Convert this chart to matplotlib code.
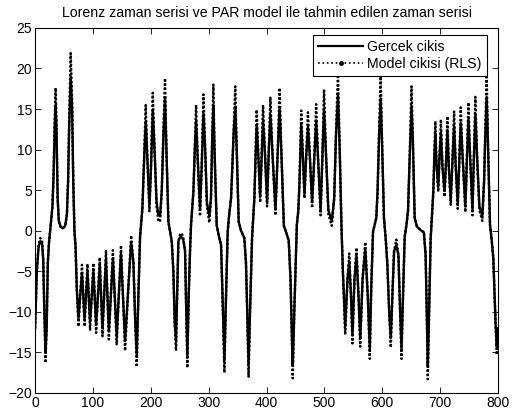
import numpy as np
import matplotlib
matplotlib.use('Agg')
import matplotlib.pyplot as plt
from matplotlib.lines import Line2D

# ornek indeksi (peak / trough / ara noktalar)
t = [0, 3, 6, 9, 12, 14, 16, 18, 20, 22, 24, 27, 30, 32, 34, 35.5, 37, 39, 41, 44,
     48, 52, 55, 57, 59, 61.5, 64, 66, 68, 70, 72, 75,
     81, 85.5, 90.5, 95, 100.8, 105.5, 111.8, 116.5, 122.5, 127.5, 134.5, 141, 148.5, 155.5,
     166, 170, 173, 175.7,
     178.5, 181.4, 183.5, 185.5, 188, 191.2, 194, 197.6, 200, 203.4, 207, 210, 213, 216,
     219, 222, 224.6, 227, 230.4, 233, 236.2, 239, 241.5, 243.6, 245.5, 247.7, 250.5,
     253.4, 256, 259.2, 261, 263.2, 265.5, 267.8, 269.5, 273.6, 276, 278.2, 281, 285.1,
     288, 291, 294, 297, 301.2, 304, 306, 308.1, 310.5, 313.9, 318, 321.4, 324, 327.2,
     330, 332.9, 335.5, 338.7, 341, 343.5, 346, 348.5, 351.9, 356, 361.7, 364.5, 367,
     369, 371.5, 375, 379, 381, 383, 386, 389, 391, 394, 397, 401, 404, 406.7, 410,
     415.5, 419, 422.6, 426, 430, 434, 438.4, 441.5, 443.5, 445.3, 448, 452.4, 455, 457,
     460, 463, 465.6, 468.5, 471.6, 475, 478.8, 482, 485.8, 489, 493.5, 496.5, 499.4,
     503, 507, 512.8, 517, 520, 523.5, 526.5, 529.5, 532, 536, 540, 543, 546, 548.5,
     552, 555.5, 559, 562, 566, 570.7, 575, 578.5, 581, 584.1, 589.8, 592, 594.5, 597.3,
     600, 603, 606, 608.9, 612, 614.8, 618, 620.5, 624.4, 628, 630.5, 633.3, 636, 638.8,
     642, 644.6, 647, 650.6, 653, 656.1, 660, 666, 672, 675, 677, 678.8, 681, 683.7,
     686, 688.3, 690, 691.8, 694, 696.8, 699, 701.4, 704, 707.7, 710, 712.7, 715, 718.4,
     721, 724.2, 727, 730.5, 733, 735.7, 739, 743.7, 746, 749, 752, 756, 758, 761, 764,
     768, 773, 776, 778, 780.5, 783, 786.3, 789, 792, 796, 798, 800]

# gercek cikis
gercek = [-12, -5, -2.0, -1.3, -1.5, -3.5, -10, -15.0, -12, -4, -1.5, 0.8, 3, 7, 13, 15.5, 12.5, 4, 1.2, 0.5,
          0.3, 0.6, 2, 6, 13, 19, 15, 6, 0, -2, -7, -10.8,
          -5.2, -10.8, -5.1, -11.2, -5.0, -11.6, -4.3, -12.0, -3.5, -12.4, -3.4, -13.0, -2.8, -13.6,
          -1.4, -4, -11, -15.3,
          -8, -0.8, 1, 2.8, 8, 13.5, 9, 3.2, 7, 14.8, 9, 3.5, 2, 1.8,
          5, 12, 16.3, 10, 1.1, 0, -1.3, -5, -11.6, -13.5, -8, -1.3, -0.8,
          -0.8, -1.1, -2.5, -9, -15.4, -8, -2.5, 0.7, 4.8, 10, 13.5, 9, 2.6,
          8, 14.5, 10, 3.5, 1.8, 4, 11, 15.5, 9, 0.7, -0.8, -1.7, -8, -16,
          -8, -0.1, 2, 4, 8, 12.5, 15.3, 10, 1.1, 0, -0.9, -4, -11,
          -16.5, -10, -0.9, 4, 9, 13, 9, 4.2, 8, 13.5, 10, 3.6, 10, 14.3, 10,
          2.6, 9, 15.2, 9, 0.6, -0.2, -1.2, -6, -12, -16.6, -10, 0.7, 2.5, 6,
          13, 9, 4.6, 9, 12.8, 9, 3.5, 8, 13.6, 9, 2.6, 9, 15,
          9, 2.5, 1.2, 4, 11.5, 16.8, 10, 0.7, -5, -11.8, -6, -3.8, -8, -12.9,
          -6, -3.1, -8, -13.3, -6, -2.3, -8, -14.5, -7, -0.1, 1.6, 5, 11.5, 16.3,
          10, 1.6, -1, -4.2, -10, -13.2, -7, -2.5, -1.8, -3, -9, -14.5, -8, -0.8,
          0.8, 2.5, 8, 15.4, 11, 1.6, 0.5, 0.1, -0.2, -3, -10, -16.7, -10, -1,
          2, 4.8, 9, 12, 8, 5.4, 9, 12.1, 8, 4.9, 8, 12.4, 8, 3.9,
          8, 12.9, 8, 3.4, 8, 13.3, 9, 3, 8, 13.8, 9, 2.6, 8, 14.3, 9,
          3, 1.8, 6, 11.5, 16.5, 10, 0.7, -1, -3.4, -11.6, -14.3, -12]

# model cikisi (RLS)
model = [-12, -5, -1.8, -0.9, -1.2, -3.5, -10, -16.3, -12, -4, -1.5, 0.8, 3, 7, 14, 17.6, 13, 4, 1.2, 0.5,
         0.3, 0.6, 2, 6, 14, 21.9, 16, 6, 0, -2, -7, -11.8,
         -4.2, -11.8, -4.1, -12.2, -4.0, -12.6, -3.3, -13.0, -2.5, -13.4, -2.4, -14.0, -1.8, -14.8,
         -0.6, -4, -11, -16.8,
         -8, -0.8, 1, 2.8, 8, 15.5, 9, 2.4, 7, 17, 9, 3, 1.3, 1.1,
         5, 13, 18.8, 10, 1.1, 0, -1.3, -5, -11.6, -14.8, -8, -1.3, -0.5,
         -0.3, -0.8, -2.5, -9, -16.9, -8, -2.5, 0.7, 4.8, 10, 15.5, 9, 1.8,
         8, 16.8, 10, 3, 1.0, 4, 11, 18, 9, 0.7, -0.8, -1.7, -8, -17.5,
         -8, -0.1, 2, 4, 8, 13, 17.8, 10, 1.1, 0, -0.9, -4, -11,
         -18, -10, -0.9, 4, 9, 14.9, 9, 3.5, 8, 15.5, 10, 3, 10, 16.4, 10,
         1.9, 9, 17.6, 9, 0.6, -0.2, -1.2, -6, -12, -18.2, -10, 0.7, 2.5, 6,
         14.8, 9, 4, 9, 14.6, 9, 2.8, 8, 15.6, 9, 1.9, 9, 17.4,
         9, 2, 0.6, 4, 12, 19.5, 10, 0.7, -5, -12.8, -6, -2.8, -8, -13.9,
         -6, -2.1, -8, -14.3, -6, -1.4, -8, -15.8, -7, -0.1, 1.6, 5, 12, 19,
         10, 1.6, -1, -4.2, -10, -14.4, -7, -2.5, -1.1, -3, -9, -15.8, -8, -0.8,
         0.8, 2.5, 8, 17.8, 11, 1.6, 0.5, 0.1, -0.2, -3, -10, -18.3, -10, -1,
         2, 4.8, 9, 13.5, 8, 4.8, 9, 13.7, 8, 4.2, 8, 14.1, 8, 3.2,
         8, 14.7, 8, 2.7, 8, 15.2, 9, 2.3, 8, 15.8, 9, 1.9, 8, 16.5, 9,
         2.5, 1.2, 6, 12, 19.2, 10, 0.7, -1, -3.4, -11.6, -15.3, -12]

plt.rcParams['font.family'] = ['Liberation Sans', 'DejaVu Sans']

fig = plt.figure(figsize=(5.16, 4.17), dpi=100)
ax = fig.add_axes([0.068, 0.0576, 0.897, 0.8755])

ax.plot(t, gercek, '-', color='black', lw=1.7)
ax.plot(t, model, color='black', lw=1.7, linestyle=(0, (1, 0.8)))

ax.set_xlim(0, 800)
ax.set_ylim(-20, 25)
ax.set_xticks(np.arange(0, 801, 100))
ax.set_yticks(np.arange(-20, 26, 5))
ax.tick_params(direction='in', top=True, right=True, labelsize=10, length=4, width=0.6, pad=2)
for s in ax.spines.values():
    s.set_linewidth(0.8)

ax.set_title('Lorenz zaman serisi ve PAR model ile tahmin edilen zaman serisi', fontsize=10.2, pad=8)

h1 = Line2D([], [], color='black', lw=1.6, linestyle='-')
h2 = Line2D([], [], color='black', lw=1.2, linestyle=':', marker='.', markersize=5)
leg = ax.legend([h1, h2], ['Gercek cikis', 'Model cikisi (RLS)'], loc='upper right',
                bbox_to_anchor=(0.976, 0.981), borderaxespad=0, fontsize=10.2,
                fancybox=False, framealpha=1, edgecolor='black', handlelength=3.2,
                numpoints=1, borderpad=0.35, labelspacing=0.25, handletextpad=0.3)
leg.get_frame().set_linewidth(0.8)

fig.savefig('out.png', dpi=100)
